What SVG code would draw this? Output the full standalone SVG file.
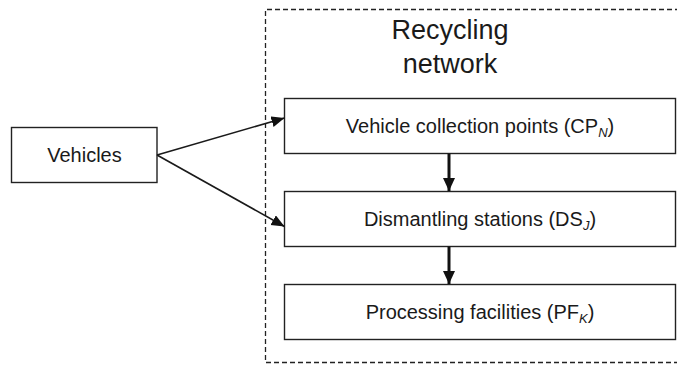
<svg xmlns="http://www.w3.org/2000/svg" width="677" height="368" viewBox="0 0 677 368">
<defs>
<style>
.box{fill:#fff;stroke:#222;stroke-width:1.4}
.t{font-family:"Liberation Sans",Arial,sans-serif;font-size:20px;fill:#1a1a1a;text-anchor:middle}
.title{font-size:27px}
.sub{font-size:13px;font-style:italic}
.thin{stroke:#1a1a1a;stroke-width:1.6;fill:none}
.thick{stroke:#111;stroke-width:3;fill:none}
</style>
<marker id="ah" markerUnits="userSpaceOnUse" markerWidth="14" markerHeight="12" refX="13" refY="5.5" orient="auto">
<path d="M0,0 L13,5.5 L0,11 Z" fill="#111"/>
</marker>
<marker id="ahv" markerUnits="userSpaceOnUse" markerWidth="14" markerHeight="14" refX="13" refY="6" orient="auto">
<path d="M0,0 L13,6 L0,12 Z" fill="#111"/>
</marker>
</defs>
<rect width="677" height="368" fill="#fff"/>
<g id="network">
<path d="M680,9.5 L265.5,9.5 L265.5,362.5 L680,362.5" fill="none" stroke="#222" stroke-width="1.3" stroke-dasharray="5,3"/>
<text class="t title" x="450" y="39">Recycling</text>
<text class="t title" x="450" y="73">network</text>
</g>
<g id="vehicles">
<rect class="box" x="11.5" y="127.5" width="145.5" height="55"/>
<text class="t" x="84.5" y="162">Vehicles</text>
</g>
<g id="cp">
<rect class="box" x="284.5" y="98.5" width="391" height="55"/>
<text class="t" x="480" y="133">Vehicle collection points (CP<tspan class="sub" dy="4">N</tspan><tspan dy="-4">)</tspan></text>
</g>
<g id="ds">
<rect class="box" x="284.5" y="191.5" width="391" height="55"/>
<text class="t" x="480" y="226">Dismantling stations (DS<tspan class="sub" dy="4">J</tspan><tspan dy="-4">)</tspan></text>
</g>
<g id="pf">
<rect class="box" x="284.5" y="284.5" width="391" height="55"/>
<text class="t" x="480" y="319">Processing facilities (PF<tspan class="sub" dy="4">K</tspan><tspan dy="-4">)</tspan></text>
</g>
<g id="connectors">
<line class="thin" x1="157" y1="155" x2="284.5" y2="118" marker-end="url(#ah)"/>
<line class="thin" x1="157" y1="155" x2="284.5" y2="226.5" marker-end="url(#ah)"/>
<line class="thick" x1="449" y1="153.5" x2="449" y2="191" marker-end="url(#ahv)"/>
<line class="thick" x1="449" y1="246.5" x2="449" y2="284" marker-end="url(#ahv)"/>
</g>
</svg>
